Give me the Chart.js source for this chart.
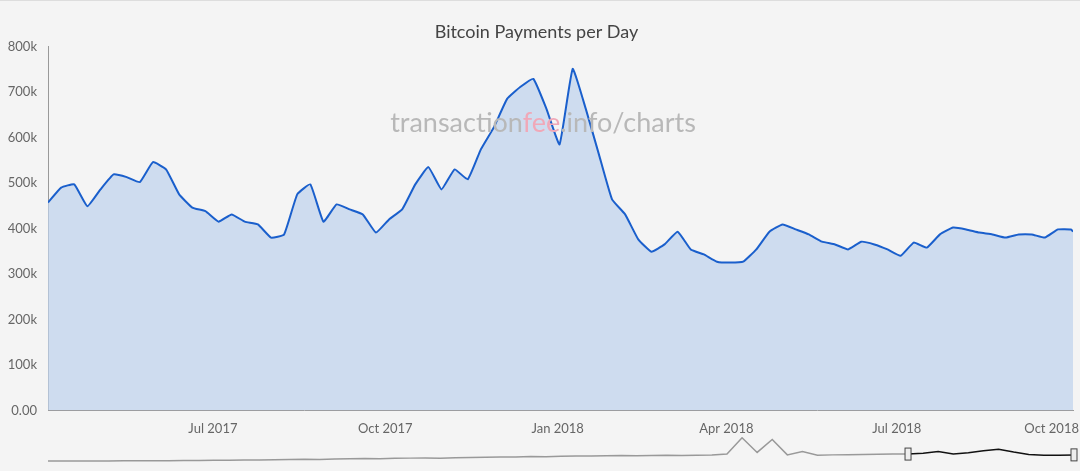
<!DOCTYPE html>
<html>
<head>
<meta charset="utf-8">
<script src="https://cdn.jsdelivr.net/npm/chart.js@4/dist/chart.umd.min.js"></script>
<style>
  body { margin: 0; background: #f4f4f4; overflow: hidden; }
  #wrap { position: relative; width: 1080px; height: 471px; border-top: 1px solid #ddd; box-sizing: border-box; overflow: hidden; }
  #main { position: absolute; left: 0; top: 0; }
  #nav { position: absolute; left: 48px; top: 434px; }
  #mark { position: absolute; left: 0; width: 1086px; top: 104px; text-align: center; font: 27px Lato, sans-serif; color: #b8b8b8; pointer-events: none; }
  #lastTick { position: absolute; right: 1px; top: 419px; font: 13px Lato, sans-serif; color: #666; }
</style>
</head>
<body>
<div id="wrap">
  <canvas id="main" width="1080" height="471"></canvas>
  <div id="mark">transaction<span style="color:#f0a8b8">fee</span>.info/charts</div>
  <div id="lastTick"></div>
  <canvas id="nav" width="1030" height="32"></canvas>
</div>
<script>
const startDate = "2017-04-04";
const endDate = "2018-10-03";
// weekly payments per day (thousands)
const payments = [457, 490, 497, 449, 486, 519, 513, 502, 546, 530, 475, 446, 438, 415, 431, 415,
  409, 380, 387, 475, 497, 415, 453, 442, 431, 391, 420, 442, 497, 535, 486, 530, 508, 574, 623,
  685, 711, 729, 663, 585, 751, 663, 563, 464, 431, 376, 349, 365, 393, 354, 343, 327, 325, 327,
  354, 393, 409, 398, 387, 371, 365, 354, 371, 365, 354, 340, 369, 358, 387, 402, 398, 391, 387,
  380, 387, 387, 380, 398, 398, 393];
const tickMonths = ["2017-07-01", "2017-10-01", "2018-01-01", "2018-04-01", "2018-07-01", "2018-10-01"];
const tickLabels = ["Jul 2017", "Oct 2017", "Jan 2018", "Apr 2018", "Jul 2018", "Oct 2018"];
const yTicks = [0, 100, 200, 300, 400, 500, 600, 700, 800];
// navigator overview (full history, relative)
const overview = [5, 5, 5, 5.1, 5.2, 5.3, 5.5, 5.6, 5.8, 6, 6.3, 6.6, 6.8, 7.2, 7.5, 8, 8.5, 9, 8.5, 10,
  10.5, 11, 10.5, 11.5, 12, 12.5, 12, 13, 13.5, 14, 15, 14.5, 16, 15.5, 16.5, 17, 17.5, 18, 18.5, 18,
  18.5, 19, 18.5, 19, 19.5, 22, 62, 26, 58, 20, 28, 19, 20, 20.5, 21, 21.5, 22, 22, 24, 28, 22, 25, 30,
  34, 27, 21, 19, 19, 20];
const overviewSelStart = 57;

const day = d => Math.round((new Date(d) - new Date(startDate)) / 86400000);
const pts = payments.map((v, i) => ({ x: Math.min(i * 7, day(endDate)), y: v * 1000 }));
pts[pts.length - 1].x = day(endDate);
const lastIdx = tickLabels.length - 1;
document.getElementById("lastTick").textContent = tickLabels[lastIdx];

new Chart(document.getElementById("main"), {
  type: "line",
  data: {
    datasets: [{
      data: pts,
      borderColor: "#1a5fcc",
      borderWidth: 2,
      backgroundColor: "rgba(190,210,236,0.7)",
      fill: "origin",
      pointRadius: 0,
      tension: 0.12,
    }],
  },
  options: {
    responsive: false,
    animation: false,
    layout: { padding: { left: 0, right: 7, top: 0, bottom: 32 } },
    plugins: {
      legend: { display: false },
      tooltip: { enabled: false },
      title: {
        display: true,
        text: "Bitcoin Payments per Day",
        color: "#444",
        font: { family: "Lato", size: 18, weight: "normal" },
        padding: { top: 20, bottom: 4 },
      },
    },
    scales: {
      x: {
        type: "linear",
        min: 0,
        max: day(endDate),
        grid: { display: false },
        border: { color: "#999" },
        afterBuildTicks: ax => { ax.ticks = tickMonths.map(m => ({ value: day(m) })); },
        ticks: {
          color: "#666",
          font: { family: "Lato", size: 13 },
          maxRotation: 0,
          autoSkip: false,
          callback: v => {
            const i = tickMonths.findIndex(m => day(m) === v);
            return i === lastIdx ? "" : tickLabels[i];
          },
        },
      },
      y: {
        min: 0,
        max: 800000,
        afterFit: ax => { ax.width = 48; },
        afterBuildTicks: ax => { ax.ticks = yTicks.map(t => ({ value: t * 1000 })); },
        grid: { display: false },
        border: { color: "#999" },
        ticks: {
          color: "#666",
          font: { family: "Lato", size: 13 },
          padding: 3,
          callback: v => v === 0 ? "0.00" : v / 1000 + "k",
        },
      },
    },
  },
});

const navHandles = {
  id: "navHandles",
  afterDatasetsDraw(chart) {
    const c = chart.ctx, xs = chart.scales.x, ys = chart.scales.y;
    [overviewSelStart, overview.length - 1].forEach(i => {
      const px = xs.getPixelForValue(i), py = ys.getPixelForValue(overview[i]);
      c.fillStyle = "#eee"; c.strokeStyle = "#444"; c.lineWidth = 1;
      c.fillRect(px - 3, py - 6, 6, 12); c.strokeRect(px - 3, py - 6, 6, 12);
    });
  },
};

new Chart(document.getElementById("nav"), {
  type: "line",
  data: {
    labels: overview.map((_, i) => i),
    datasets: [
      { data: overview.map((v, i) => i <= overviewSelStart ? v : null), borderColor: "#999", borderWidth: 1.5, pointRadius: 0 },
      { data: overview.map((v, i) => i >= overviewSelStart ? v : null), borderColor: "#111", borderWidth: 1.5, pointRadius: 0 },
    ],
  },
  options: {
    responsive: false,
    animation: false,
    layout: { padding: { left: 0, right: 4, top: 2, bottom: 4 } },
    plugins: { legend: { display: false }, tooltip: { enabled: false } },
    scales: {
      x: { type: "linear", min: 0, max: overview.length - 1, display: false },
      y: { min: 0, max: 64, display: false },
    },
  },
  plugins: [navHandles],
});
</script>
</body>
</html>
